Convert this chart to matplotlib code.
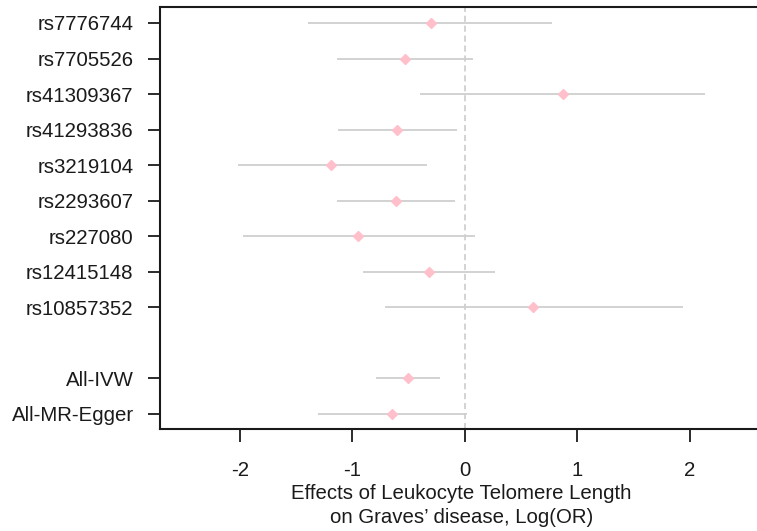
import matplotlib
matplotlib.use("Agg")
import matplotlib.pyplot as plt

# data
snps = ["rs7776744", "rs7705526", "rs41309367", "rs41293836", "rs3219104",
        "rs2293607", "rs227080", "rs12415148", "rs10857352",
        "All-IVW", "All-MR-Egger"]
estimate = [-0.30, -0.53, 0.87, -0.60, -1.19, -0.61, -0.95, -0.32, 0.61, -0.51, -0.65]
ci_low = [-1.40, -1.14, -0.40, -1.13, -2.02, -1.14, -1.97, -0.91, -0.71, -0.79, -1.31]
ci_high = [0.78, 0.07, 2.14, -0.07, -0.34, -0.09, 0.09, 0.27, 1.94, -0.22, 0.02]
ypos = [12, 11, 10, 9, 8, 7, 6, 5, 4, 2, 1]

plt.rcParams["font.family"] = ["Liberation Sans", "DejaVu Sans"]
plt.rcParams["axes.unicode_minus"] = False

fig = plt.figure(figsize=(7.57, 5.31), dpi=100)
ax = fig.add_axes([160 / 757, 102 / 531, 603 / 757, 422 / 531])

ax.axvline(0, color="#c8c8c8", lw=1.1, ls=(0, (4, 2.5)), zorder=1)
ax.hlines(ypos, ci_low, ci_high, color="#cfcfcf", lw=1.3, zorder=2)
ax.plot(estimate, ypos, "D", color="pink", markersize=5.5, zorder=3)

ax.set_xlim(-2.713, 2.654)
ax.set_ylim(0.57, 12.45)
ax.set_xticks([-2, -1, 0, 1, 2])
ax.set_yticks(ypos)
ax.set_yticklabels(snps)
ax.tick_params(axis="both", labelsize=14.7, length=9, width=1.3,
               colors="#1a1a1a", pad=10)
ax.tick_params(axis="x", pad=14)

for s in ["left", "bottom", "top"]:
    ax.spines[s].set_linewidth(1.5)
    ax.spines[s].set_color("#1a1a1a")
ax.spines["right"].set_visible(False)

ax.set_xlabel("Effects of Leukocyte Telomere Length\non Graves’ disease, Log(OR)",
              fontsize=14.7, color="#1a1a1a", linespacing=1.35, labelpad=3)

fig.savefig("out.png", dpi=100)
